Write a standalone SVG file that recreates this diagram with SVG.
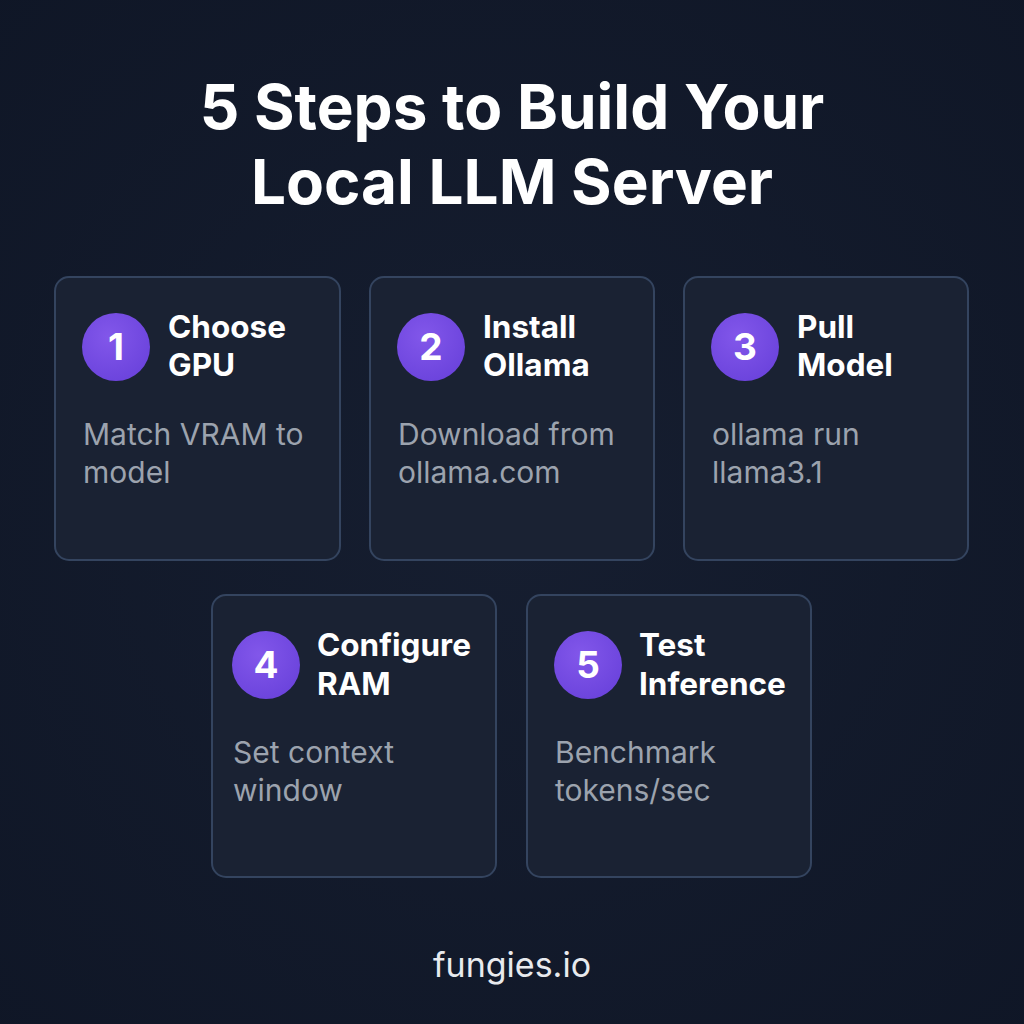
<svg xmlns="http://www.w3.org/2000/svg" width="1024" height="1024" viewBox="0 0 1024 1024">
<defs>
<radialGradient id="bg" cx="50%" cy="50%" r="75%">
<stop offset="0" stop-color="#161e30"/>
<stop offset="1" stop-color="#0f1626"/>
</radialGradient>
<radialGradient id="circ" cx="40%" cy="35%" r="70%">
<stop offset="0" stop-color="#8257ea"/>
<stop offset="1" stop-color="#6b43dc"/>
</radialGradient>
</defs>
<style>
.card{fill:#1a2233;stroke:#34445f;stroke-width:2}
.num{fill:url(#circ)}
.numt{font-family:Inter,"Liberation Sans",sans-serif;font-weight:700;font-size:37px;fill:#ffffff;text-anchor:middle}
.ttl{font-family:Inter,"Liberation Sans",sans-serif;font-weight:700;font-size:31.5px;fill:#ffffff}
.desc{font-family:Inter,"Liberation Sans",sans-serif;font-weight:400;font-size:30px;fill:#9ca3ae}
.head{font-family:Inter,"Liberation Sans",sans-serif;font-weight:700;font-size:62px;fill:#ffffff;text-anchor:middle}
.foot{font-family:Inter,"Liberation Sans",sans-serif;font-weight:400;font-size:34px;fill:#e8eaee;text-anchor:middle}
</style>
<rect width="1024" height="1024" fill="url(#bg)"/>
<g id="title">
<text class="head" x="512" y="129">5 Steps to Build Your</text>
<text class="head" x="512" y="204">Local LLM Server</text>
</g>
<g id="connectors"></g>
<g id="step1">
<rect class="card" x="55" y="277" width="285" height="283" rx="14"/>
<circle class="num" cx="116" cy="347" r="34"/>
<text class="numt" x="116" y="360">1</text>
<text class="ttl" x="168" y="338">Choose</text>
<text class="ttl" x="168" y="376">GPU</text>
<text class="desc" x="83" y="445">Match VRAM to</text>
<text class="desc" x="83" y="483">model</text>
</g>
<g id="step2">
<rect class="card" x="370" y="277" width="284" height="283" rx="14"/>
<circle class="num" cx="431" cy="347" r="34"/>
<text class="numt" x="431" y="360">2</text>
<text class="ttl" x="483" y="338">Install</text>
<text class="ttl" x="483" y="376">Ollama</text>
<text class="desc" x="398" y="445">Download from</text>
<text class="desc" x="398" y="483">ollama.com</text>
</g>
<g id="step3">
<rect class="card" x="684" y="277" width="284" height="283" rx="14"/>
<circle class="num" cx="745" cy="347" r="34"/>
<text class="numt" x="745" y="360">3</text>
<text class="ttl" x="797" y="338">Pull</text>
<text class="ttl" x="797" y="376">Model</text>
<text class="desc" x="712" y="445">ollama run</text>
<text class="desc" x="712" y="483">llama3.1</text>
</g>
<g id="step4">
<rect class="card" x="212" y="595" width="284" height="282" rx="14"/>
<circle class="num" cx="266" cy="665" r="34"/>
<text class="numt" x="266" y="678">4</text>
<text class="ttl" x="317" y="656">Configure</text>
<text class="ttl" x="317" y="695">RAM</text>
<text class="desc" x="233" y="763">Set context</text>
<text class="desc" x="233" y="801">window</text>
</g>
<g id="step5">
<rect class="card" x="527" y="595" width="284" height="282" rx="14"/>
<circle class="num" cx="588" cy="665" r="34"/>
<text class="numt" x="588" y="678">5</text>
<text class="ttl" x="639" y="656">Test</text>
<text class="ttl" x="639" y="695">Inference</text>
<text class="desc" x="555" y="763">Benchmark</text>
<text class="desc" x="555" y="801">tokens/sec</text>
</g>
<g id="footer">
<text class="foot" x="512" y="977">fungies.io</text>
</g>
</svg>
